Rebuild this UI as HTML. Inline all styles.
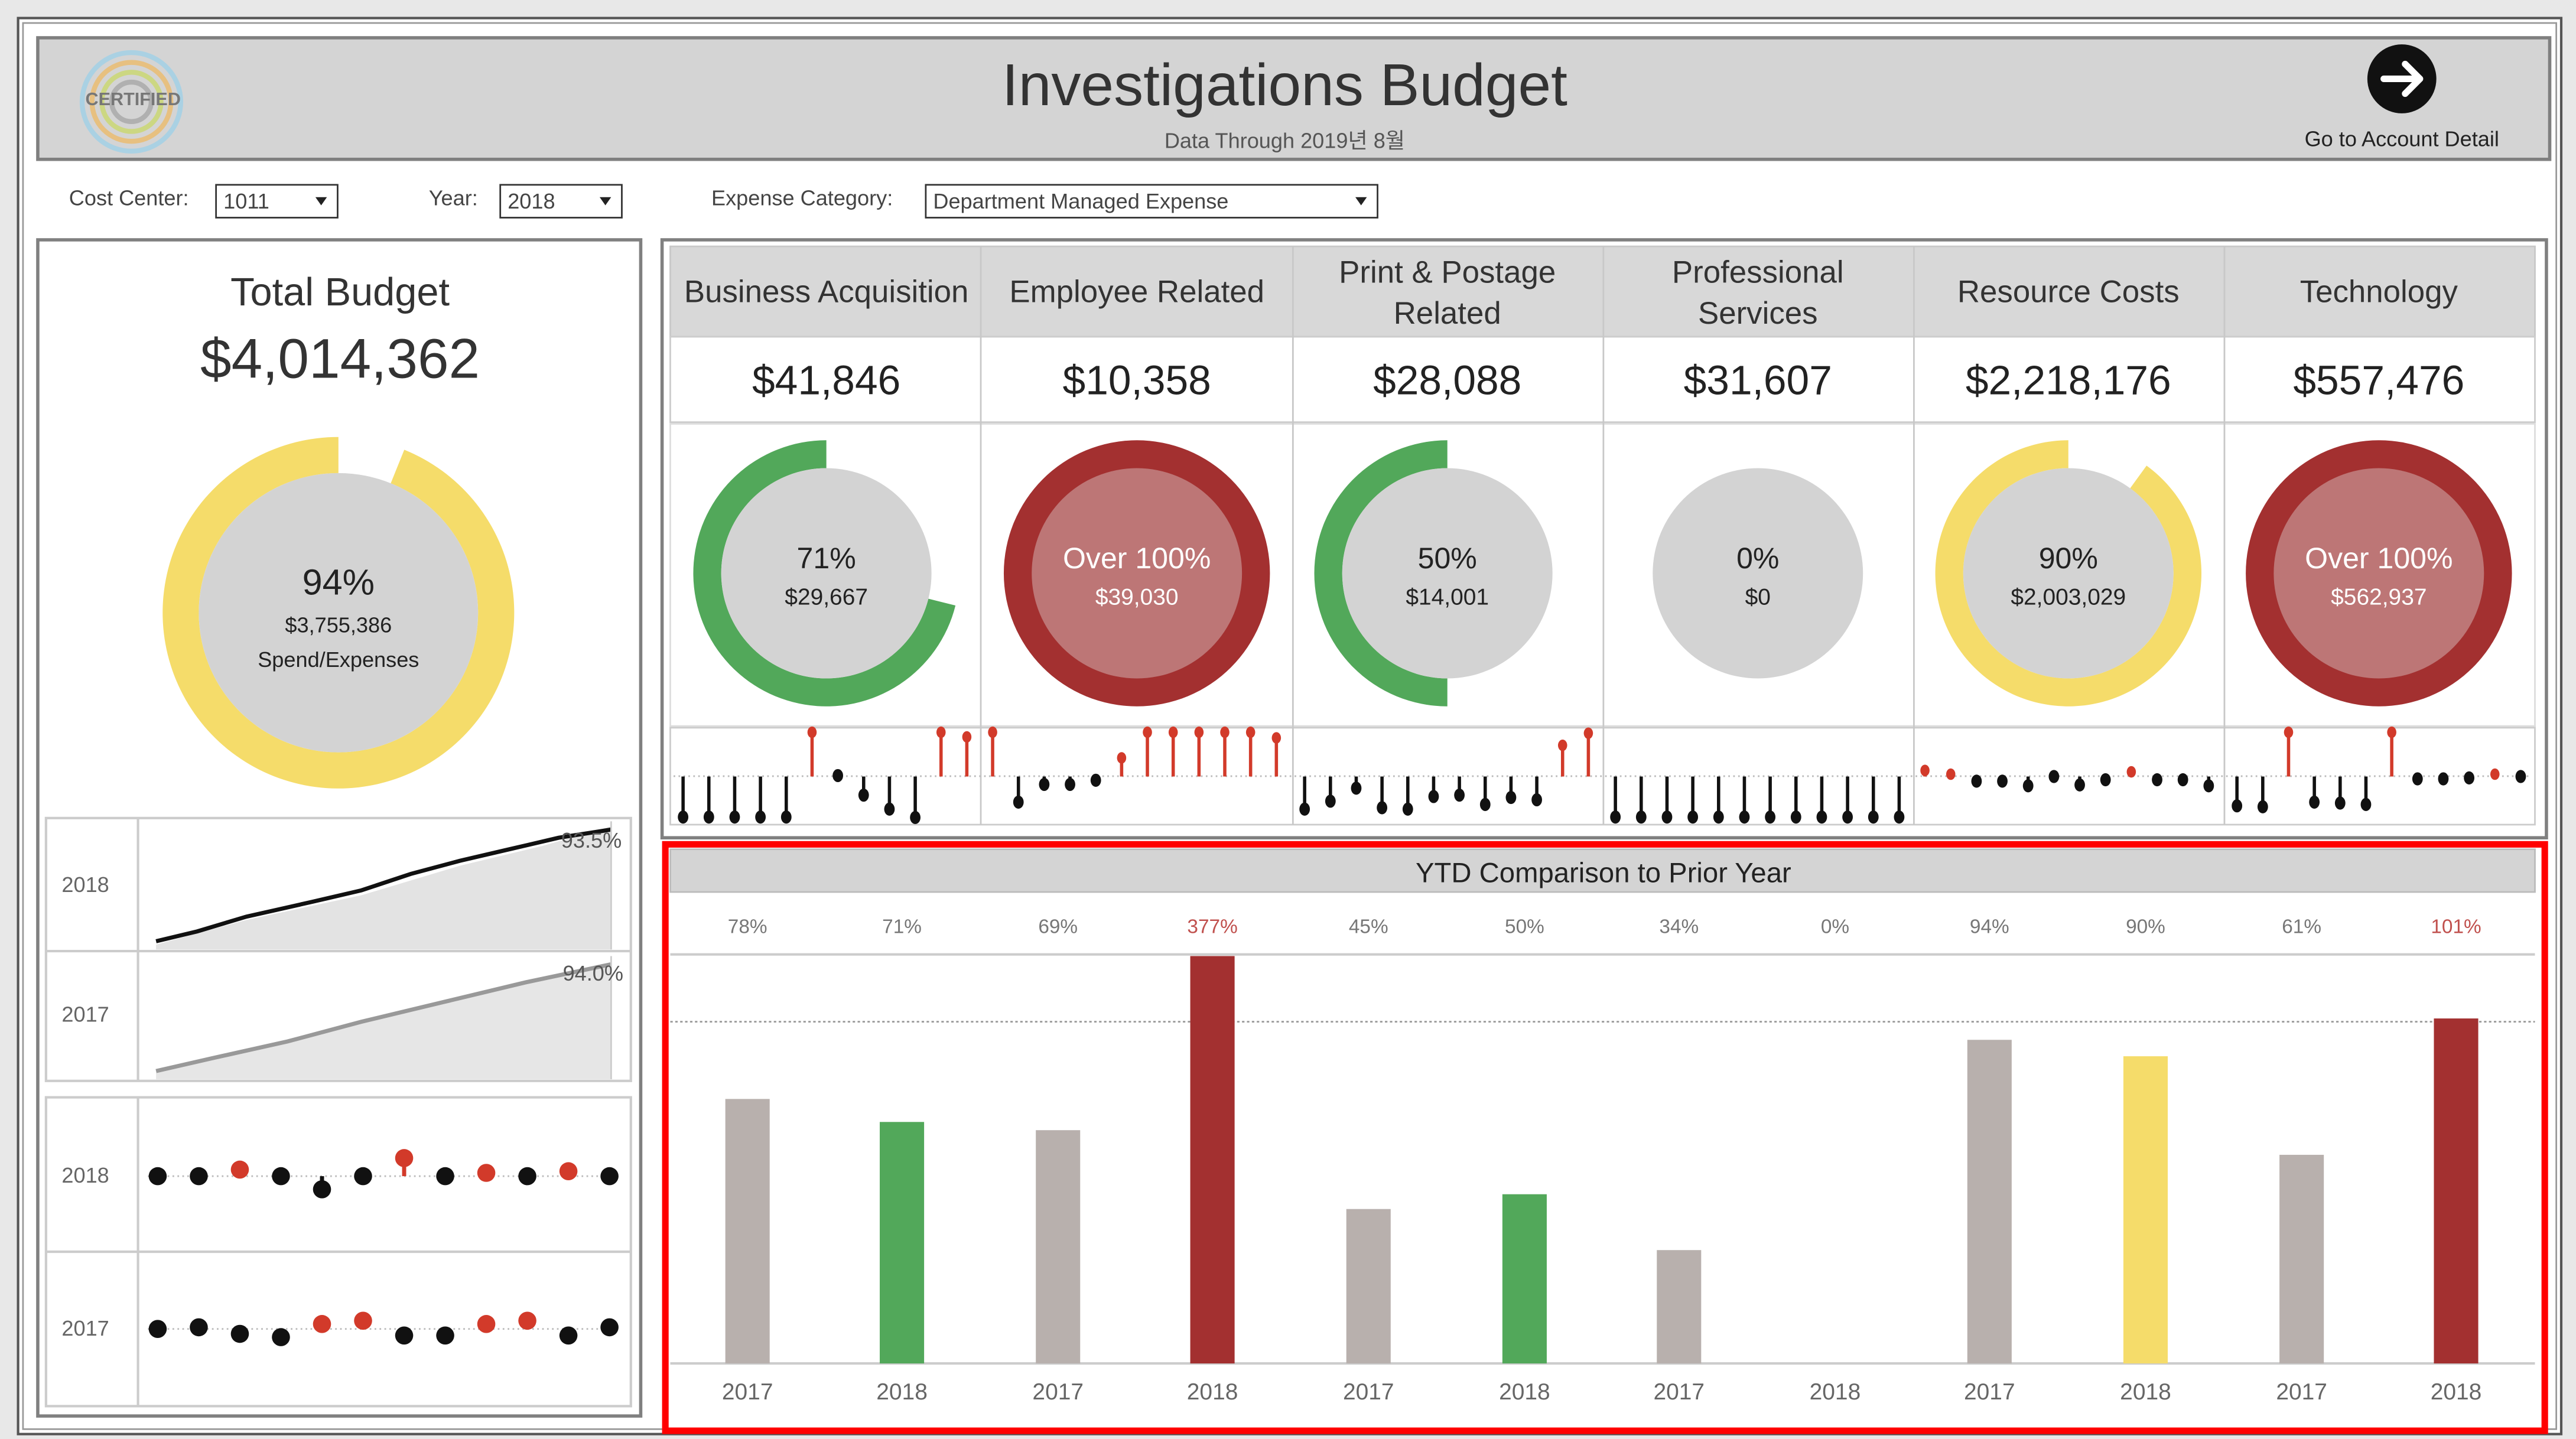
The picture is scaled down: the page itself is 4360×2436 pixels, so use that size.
<!DOCTYPE html>
<html><head><meta charset="utf-8"><style>
html,body{margin:0;padding:0;background:#e8e8e8;}
svg{display:block;}
text{font-family:"Liberation Sans","Noto Sans CJK KR",sans-serif;}
</style></head><body>
<svg id="s" width="4360" height="2436" viewBox="0 0 1568 876" preserveAspectRatio="none" xmlns="http://www.w3.org/2000/svg">
<rect x="0" y="0" width="1568" height="876" fill="#e8e8e8"/>
<rect x="11" y="11" width="1548" height="862" fill="#fff" stroke="#555" stroke-width="1.5"/>
<rect x="14" y="14" width="1542" height="856" fill="#fff" stroke="#999" stroke-width="1"/>
<!-- header -->
<rect x="23" y="23" width="1529" height="74" fill="#d4d4d4" stroke="#7f7f7f" stroke-width="2"/>
<g opacity="0.6" fill="none" stroke-width="3">
<circle cx="80" cy="62" r="30" stroke="#8fd0ee"/>
<circle cx="80" cy="62" r="24" stroke="#f5b34a"/>
<circle cx="80" cy="62" r="18" stroke="#c7d94c"/>
<circle cx="80" cy="62" r="12" stroke="#999"/>
</g>
<text x="81" y="64" font-size="11" font-weight="bold" fill="#777" text-anchor="middle">CERTIFIED</text>
<text x="782" y="64" font-size="36" fill="#333" text-anchor="middle">Investigations Budget</text>
<text x="782" y="90" font-size="13" fill="#555" text-anchor="middle">Data Through 2019년 8월</text>
<circle cx="1462" cy="48" r="21" fill="#111"/>
<path d="M1451 48 H1472 M1464 39 L1473 48 L1464 57" stroke="#fff" stroke-width="4" fill="none" stroke-linecap="round" stroke-linejoin="round"/>
<text x="1462" y="89" font-size="13" fill="#222" text-anchor="middle">Go to Account Detail</text>
<!-- filters -->
<text x="42" y="125" font-size="13" fill="#444">Cost Center:</text>
<rect x="131.5" y="112.5" width="74" height="20" fill="#fff" stroke="#333"/>
<text x="136" y="127" font-size="13" fill="#444">1011</text>
<path d="M192 120 h7 l-3.5 5z" fill="#222"/>
<text x="261" y="125" font-size="13" fill="#444">Year:</text>
<rect x="304.5" y="112.5" width="74" height="20" fill="#fff" stroke="#333"/>
<text x="309" y="127" font-size="13" fill="#444">2018</text>
<path d="M365 120 h7 l-3.5 5z" fill="#222"/>
<text x="433" y="125" font-size="13" fill="#444">Expense Category:</text>
<rect x="563.5" y="112.5" width="275" height="20" fill="#fff" stroke="#333"/>
<text x="568" y="127" font-size="13" fill="#444">Department Managed Expense</text>
<path d="M825 120 h7 l-3.5 5z" fill="#222"/>
<!-- left panel -->
<rect x="23" y="146" width="367" height="716" fill="#fff" stroke="#808080" stroke-width="2"/>
<text x="207" y="186" font-size="24" fill="#333" text-anchor="middle">Total Budget</text>
<text x="207" y="230" font-size="34" fill="#333" text-anchor="middle">$4,014,362</text>
<g id="donuts"></g>
<text x="206" y="362" font-size="22" fill="#222" text-anchor="middle">94%</text>
<text x="206" y="385" font-size="13" fill="#222" text-anchor="middle">$3,755,386</text>
<text x="206" y="406" font-size="13" fill="#222" text-anchor="middle">Spend/Expenses</text>
<!-- sparklines -->
<g stroke="#ccc" stroke-width="1.5" fill="none">
<rect x="28" y="498" width="356" height="160"/>
<line x1="28" y1="579" x2="384" y2="579"/>
<line x1="84" y1="498" x2="84" y2="658"/>
<rect x="28" y="668" width="356" height="188"/>
<line x1="28" y1="762" x2="384" y2="762"/>
<line x1="84" y1="668" x2="84" y2="856"/>
</g>
<path d="M95 575 L150 560 L220 545 L280 527 L330 515 L372 503 L372 578 L95 578Z" fill="#e3e3e3"/>
<path d="M95 573 L120 567 L150 558 L190 549 L220 542 L250 532 L280 524 L310 517 L340 510 L372 505" stroke="#111" stroke-width="2.5" fill="none"/>
<path d="M95 653 L140 642 L180 632 L220 621 L270 610 L320 598 L372 587 L372 657 L95 657Z" fill="#e6e6e6"/>
<path d="M95 652 L130 644 L175 634 L220 622 L270 610 L320 598 L372 587" stroke="#999" stroke-width="2.5" fill="none"/>
<line x1="372" y1="500" x2="372" y2="578" stroke="#ccc"/>
<line x1="372" y1="582" x2="372" y2="657" stroke="#ccc"/>
<text x="360" y="516" font-size="13" fill="#555" text-anchor="middle">93.5%</text>
<text x="361" y="597" font-size="13" fill="#555" text-anchor="middle">94.0%</text>
<text x="52" y="543" font-size="13" fill="#666" text-anchor="middle">2018</text>
<text x="52" y="622" font-size="13" fill="#666" text-anchor="middle">2017</text>
<text x="52" y="720" font-size="13" fill="#666" text-anchor="middle">2018</text>
<text x="52" y="813" font-size="13" fill="#666" text-anchor="middle">2017</text>
<line x1="90" y1="716" x2="378" y2="716" stroke="#bbb" stroke-dasharray="1,2"/>
<line x1="90" y1="809" x2="378" y2="809" stroke="#bbb" stroke-dasharray="1,2"/>
<g id="dots"></g>
<!-- right panel -->
<rect x="403" y="146" width="1147" height="364" fill="#fff" stroke="#808080" stroke-width="2"/>
<rect x="408" y="150" width="1135" height="55" fill="#d8d8d8" stroke="#c8c8c8"/>
<rect x="408" y="205" width="1135" height="52" fill="#fff" stroke="#ccc"/>
<rect x="408" y="258" width="1135" height="184" fill="#fff" stroke="#ddd"/>
<rect x="408" y="443" width="1135" height="59" fill="#fff" stroke="#ccc"/>
<g id="vlines" stroke="#c8c8c8"></g>
<g font-size="19" fill="#333" text-anchor="middle">
<text x="503" y="184">Business Acquisition</text>
<text x="692" y="184">Employee Related</text>
<text x="881" y="172">Print &amp; Postage</text>
<text x="881" y="197">Related</text>
<text x="1070" y="172">Professional</text>
<text x="1070" y="197">Services</text>
<text x="1259" y="184">Resource Costs</text>
<text x="1448" y="184">Technology</text>
</g>
<g font-size="25" fill="#222" text-anchor="middle">
<text x="503" y="240">$41,846</text>
<text x="692" y="240">$10,358</text>
<text x="881" y="240">$28,088</text>
<text x="1070" y="240">$31,607</text>
<text x="1259" y="240">$2,218,176</text>
<text x="1448" y="240">$557,476</text>
</g>
<g id="donuts2"></g>
<g font-size="18" text-anchor="middle">
<text x="503" y="346" fill="#222">71%</text>
<text x="692" y="346" fill="#fff">Over 100%</text>
<text x="881" y="346" fill="#222">50%</text>
<text x="1070" y="346" fill="#222">0%</text>
<text x="1259" y="346" fill="#222">90%</text>
<text x="1448" y="346" fill="#fff">Over 100%</text>
</g>
<g font-size="14" text-anchor="middle">
<text x="503" y="368" fill="#222">$29,667</text>
<text x="692" y="368" fill="#fff">$39,030</text>
<text x="881" y="368" fill="#222">$14,001</text>
<text x="1070" y="368" fill="#222">$0</text>
<text x="1259" y="368" fill="#222">$2,003,029</text>
<text x="1448" y="368" fill="#fff">$562,937</text>
</g>
<line x1="410" y1="472.5" x2="1541" y2="472.5" stroke="#bbb" stroke-dasharray="1,2"/>
<g id="lolli"></g>
<!-- bottom -->
<rect x="405" y="514" width="1144" height="357" fill="#fff" stroke="#f00" stroke-width="4"/>
<rect x="408" y="517" width="1135" height="26" fill="#d4d4d4" stroke="#bbb"/>
<text x="976" y="537" font-size="17" fill="#222" text-anchor="middle">YTD Comparison to Prior Year</text>
<line x1="408" y1="581" x2="1543" y2="581" stroke="#ccc" stroke-width="1.5"/>
<line x1="408" y1="830" x2="1543" y2="830" stroke="#ccc" stroke-width="1.5"/>
<line x1="408" y1="622" x2="1543" y2="622" stroke="#999" stroke-dasharray="1.5,1.5"/>
<g id="bars"></g>
<g font-size="12" fill="#777" text-anchor="middle">
<text x="455" y="568">78%</text><text x="549" y="568">71%</text>
<text x="644" y="568">69%</text><text x="738" y="568" fill="#c0504d">377%</text>
<text x="833" y="568">45%</text><text x="928" y="568">50%</text>
<text x="1022" y="568">34%</text><text x="1117" y="568">0%</text>
<text x="1211" y="568">94%</text><text x="1306" y="568">90%</text>
<text x="1401" y="568">61%</text><text x="1495" y="568" fill="#c0504d">101%</text>
</g>
<g font-size="14" fill="#666" text-anchor="middle">
<text x="455" y="852">2017</text><text x="549" y="852">2018</text>
<text x="644" y="852">2017</text><text x="738" y="852">2018</text>
<text x="833" y="852">2017</text><text x="928" y="852">2018</text>
<text x="1022" y="852">2017</text><text x="1117" y="852">2018</text>
<text x="1211" y="852">2017</text><text x="1306" y="852">2018</text>
<text x="1401" y="852">2017</text><text x="1495" y="852">2018</text>
</g>
</svg>
<script>
var NS="http://www.w3.org/2000/svg";
function el(p,t,a){var e=document.createElementNS(NS,t);for(var k in a)e.setAttribute(k,a[k]);document.getElementById(p).appendChild(e);return e;}
function pt(cx,cy,r,a){a=a*Math.PI/180;return [cx+r*Math.sin(a),cy-r*Math.cos(a)];}
function arc(p,cx,cy,R,r,a1,a2,col){
 if(a2-a1>=359.9){el(p,'circle',{cx:cx,cy:cy,r:R,fill:col});return;}
 var L=(a2-a1)>180?1:0,o1=pt(cx,cy,R,a1),o2=pt(cx,cy,R,a2),i2=pt(cx,cy,r,a2),i1=pt(cx,cy,r,a1);
 el(p,'path',{d:'M'+o1+' A'+R+' '+R+' 0 '+L+' 1 '+o2+' L'+i2+' A'+r+' '+r+' 0 '+L+' 0 '+i1+'Z',fill:col});
}
var Y='#f5dc6a',G='#52a85a',RD='#a33030',GR='#d3d3d3';
arc('donuts',206,373,107,85,22,360,Y);
el('donuts','circle',{cx:206,cy:373,r:85,fill:GR});
var cs=[503,692,881,1070,1259,1448];
var cfg=[[G,104,GR],[RD,0,'#bd7676'],[G,180,GR],[null,0,GR],[Y,36,GR],[RD,0,'#bd7676']];
cs.forEach(function(cx,i){var c=cfg[i];if(c[0])arc('donuts2',cx,349,81,64,c[1],360,c[0]);el('donuts2','circle',{cx:cx,cy:349,r:64,fill:c[2]});});
[597,787,976,1165,1354].forEach(function(x){el('vlines','line',{x1:x,y1:150,x2:x,y2:502});el('vlines','line',{x1:x,y1:548,x2:x,y2:855,stroke:'#ddd'});});
// lollipops
var cols=[
[232,232,232,232,232,-50,143,185,215,233,-50,-60],
[-50,200,162,162,153,-105,-50,-50,-50,-50,-50,-62],
[215,198,170,212,215,188,185,205,190,195,-78,-52],
[232,232,232,232,232,232,232,232,232,232,232,232],
[-132,-140,155,155,165,145,163,152,-135,152,152,165],
[208,210,-50,200,202,205,-50,150,150,148,-140,145]];
var sx=[27,279,533,786,1038,1292];
cols.forEach(function(v,c){v.forEach(function(zy,i){
 var red=zy<0; zy=Math.abs(zy); var x=395.6+(sx[c]+i*21)*0.7477, y=431.6+zy*0.2835, b=472.7;
 var col=red?'#d23a2a':'#111';
 if(Math.abs(y-b)>3) el('lolli','line',{x1:x,y1:b,x2:x,y2:y,stroke:col,'stroke-width':2});
 el('lolli','ellipse',{cx:x,cy:y,rx:red?2.8:3.2,ry:red?3.5:4,fill:col});
});});
// left dots
var dx=[96,121,146,171,196,221,246,271,296,321,346,371];
var r18=[[716,0],[716,0],[712,1],[716,0],[724,0],[716,0],[705,1],[716,0],[714,1],[716,0],[713,1],[716,0]];
var r17=[[809,0],[808,0],[812,0],[814,0],[806,1],[804,1],[813,0],[813,0],[806,1],[804,1],[813,0],[808,0]];
[r18,r17].forEach(function(r,j){var b=j?809:716;r.forEach(function(d,i){var col=d[1]?'#d23a2a':'#111';
 if(Math.abs(d[0]-b)>4)el('dots','line',{x1:dx[i],y1:b,x2:dx[i],y2:d[0],stroke:col,'stroke-width':2.5});
 el('dots','circle',{cx:dx[i],cy:d[0],r:5.5,fill:col});});});
// bars
var bx=[455,549,644,738,833,928,1022,1117,1211,1306,1401,1495];
var bt=[669,683,688,582,736,727,761,830,633,643,703,620];
var bc=['#b8b0ad',G,'#b8b0ad',RD,'#b8b0ad',G,'#b8b0ad',G,'#b8b0ad',Y,'#b8b0ad',RD];
bx.forEach(function(x,i){el('bars','rect',{x:x-13.5,y:bt[i],width:27,height:830-bt[i],fill:bc[i]});});
</script>
</body></html>
